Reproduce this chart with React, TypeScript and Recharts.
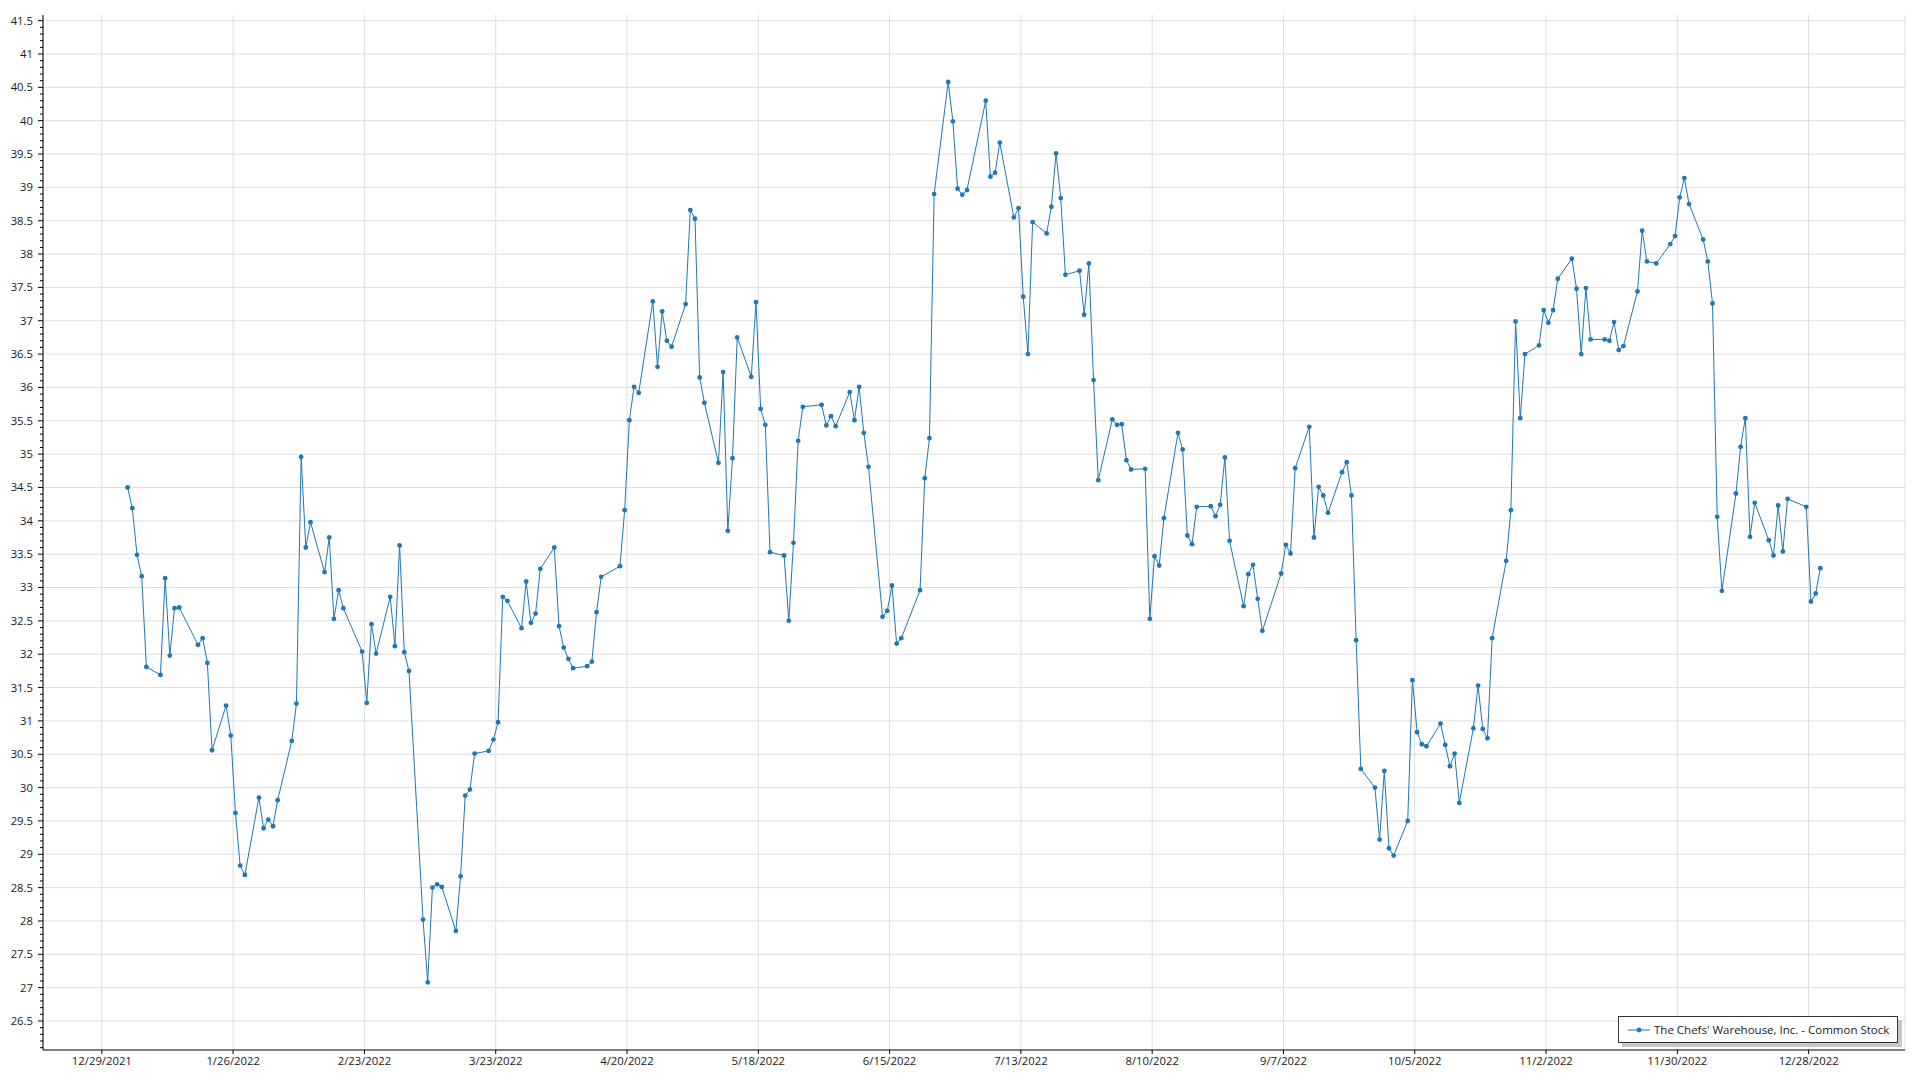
import React from "react";
import { LineChart, Line, XAxis, YAxis, CartesianGrid, Legend } from "recharts";

const FONT = '"Open Sans", "Noto Sans", sans-serif';
const BLUE = "#1f77b4";
const TEXT = "#1a1a1a";

// daily closes for 2022, one array per month
const jan = [34.5, 34.19, 33.49, 33.17, 31.81, 31.69, 33.14, 31.98, 32.69, 32.7, 32.14, 32.24, 31.87, 30.56, 31.23, 30.78, 29.62, 28.83, 28.69, 29.85];
const feb = [29.39, 29.52, 29.42, 29.81, 30.7, 31.26, 34.96, 33.6, 33.98, 33.23, 33.75, 32.53, 32.96, 32.69, 32.04, 31.27, 32.45, 32.01, 32.86];
const mar = [32.12, 33.63, 32.03, 31.75, 28.02, 27.08, 28.5, 28.55, 28.51, 27.85, 28.67, 29.88, 29.97, 30.51, 30.55, 30.72, 30.98, 32.86, 32.8, 32.39, 33.09, 32.47, 32.61];
const apr = [33.28, 33.6, 32.42, 32.1, 31.93, 31.79, 31.82, 31.89, 32.63, 33.16, 33.32, 34.16, 35.51, 36.01, 35.92, 37.29, 36.31, 37.14, 36.7, 36.61];
const may = [37.25, 38.66, 38.53, 36.15, 35.77, 34.87, 36.23, 33.85, 34.94, 36.75, 36.16, 37.28, 35.68, 35.44, 33.53, 33.48, 32.5, 33.67, 35.2, 35.71, 35.74];
const jun = [35.43, 35.57, 35.42, 35.93, 35.51, 36.01, 35.32, 34.81, 32.56, 32.65, 33.03, 32.16, 32.24, 32.96, 34.64, 35.24, 38.9, 40.58, 39.99, 38.98, 38.89];
const jul = [38.96, 40.3, 39.16, 39.22, 39.67, 38.55, 38.69, 37.36, 36.5, 38.48, 38.31, 38.71, 39.51, 38.84, 37.69, 37.75, 37.09, 37.86, 36.11, 34.61];
const aug = [35.52, 35.44, 35.45, 34.91, 34.77, 34.78, 32.53, 33.47, 33.33, 34.04, 35.32, 35.07, 33.78, 33.65, 34.21, 34.22, 34.07, 34.24, 34.95, 33.7, 32.72, 33.2, 33.34];
const sep = [32.83, 32.35, 33.21, 33.64, 33.51, 34.79, 35.41, 33.75, 34.51, 34.38, 34.12, 34.73, 34.88, 34.38, 32.21, 30.28, 30.0, 29.22, 30.25, 29.09, 28.98];
const oct = [29.5, 31.61, 30.83, 30.65, 30.62, 30.96, 30.64, 30.32, 30.51, 29.77, 30.89, 31.53, 30.88, 30.74, 32.24, 33.4, 34.16, 36.99, 35.54, 36.5, 36.63];
const nov = [37.16, 36.97, 37.16, 37.63, 37.93, 37.48, 36.5, 37.49, 36.72, 36.72, 36.7, 36.98, 36.56, 36.62, 37.44, 38.35, 37.89, 37.86, 38.15, 38.27, 38.85];
const dec = [39.14, 38.75, 38.22, 37.89, 37.26, 34.06, 32.95, 34.41, 35.11, 35.54, 33.76, 34.27, 33.71, 33.48, 34.23, 33.54, 34.33, 34.21, 32.79, 32.91, 33.29];

// market closed on these weekdays
const holidays = ["2022-01-17", "2022-02-21", "2022-04-15", "2022-05-30", "2022-06-20", "2022-07-04", "2022-09-05", "2022-11-24", "2022-12-26"];

const xTickLabels = ["12/29/2021", "1/26/2022", "2/23/2022", "3/23/2022", "4/20/2022", "5/18/2022", "6/15/2022", "7/13/2022", "8/10/2022", "9/7/2022", "10/5/2022", "11/2/2022", "11/30/2022", "12/28/2022"];
const yMajor = [26.5, 27, 27.5, 28, 28.5, 29, 29.5, 30, 30.5, 31, 31.5, 32, 32.5, 33, 33.5, 34, 34.5, 35, 35.5, 36, 36.5, 37, 37.5, 38, 38.5, 39, 39.5, 40, 40.5, 41, 41.5];

const legendName = "The Chefs' Warehouse, Inc. - Common Stock";

const DAY = 86400000;
const BASE = Date.UTC(2021, 11, 29);

const parseLabel = (s: string) => {
  const [m, d, y] = s.split("/").map(Number);
  return (Date.UTC(y, m - 1, d) - BASE) / DAY;
};
const xTicks = xTickLabels.map(parseLabel);
const fmtDate = (v: number) => {
  const i = xTicks.indexOf(v);
  return i >= 0 ? xTickLabels[i] : "";
};

// minor ticks every 0.1 on the value axis
const yTicks: number[] = [];
for (let i = 261; i <= 415; i++) yTicks.push(i / 10);

const tradingDays = (month: number) => {
  const out: number[] = [];
  for (let d = 1; d <= 31; d++) {
    const dt = new Date(Date.UTC(2022, month, d));
    if (dt.getUTCMonth() !== month) break;
    const wd = dt.getUTCDay();
    if (wd === 0 || wd === 6) continue;
    if (holidays.includes(dt.toISOString().slice(0, 10))) continue;
    out.push(dt.getTime());
  }
  return out;
};

const months = [jan, feb, mar, apr, may, jun, jul, aug, sep, oct, nov, dec];
// points sit at midday of each session
const data = months.flatMap((closes, m) =>
  tradingDays(m).map((t, i) => ({ x: (t - BASE) / DAY + 0.5, close: closes[i] })),
);

const X_DOMAIN = [-12.55, 384.55];
const Y_DOMAIN = [26.065, 41.585];

const YTick = (props: any) => {
  const { x, y, payload } = props;
  const v = payload.value as number;
  const major = Math.abs(v * 2 - Math.round(v * 2)) < 1e-6;
  const ax = x + 10;
  return (
    <g>
      <line x1={ax - (major ? 5 : 3)} x2={ax} y1={y} y2={y} stroke="#000" />
      {major && (
        <text x={x} y={y} dy="0.35em" textAnchor="end" fontSize={11.3} fill={TEXT} fontFamily={FONT}>
          {v}
        </text>
      )}
    </g>
  );
};

const LegendBox = () => (
  <div
    style={{
      width: 280,
      height: 27,
      boxSizing: "border-box",
      border: "1px solid #333",
      boxShadow: "4px 4px 0 #c8c8c8",
      background: "#fff",
      display: "flex",
      alignItems: "center",
      paddingLeft: 9,
    }}
  >
    <svg width={22} height={8}>
      <line x1={0} x2={22} y1={4} y2={4} stroke={BLUE} strokeWidth={1} />
      <circle cx={11} cy={4} r={2.4} fill={BLUE} />
    </svg>
    <span style={{ marginLeft: 4, fontSize: 11.5, fontFamily: FONT, color: TEXT, whiteSpace: "nowrap" }}>
      {legendName}
    </span>
  </div>
);

export default function App() {
  return (
    <div style={{ position: "absolute", left: 0, top: 0, width: 1920, height: 1080, background: "#fff" }}>
      <LineChart width={1920} height={1080} data={data} margin={{ top: 15, right: 15, bottom: 0, left: 0 }}>
        <CartesianGrid stroke="#dedede" horizontalValues={yMajor} />
        <XAxis
          dataKey="x"
          type="number"
          domain={X_DOMAIN}
          ticks={xTicks}
          interval={0}
          tickFormatter={fmtDate}
          height={30}
          tickSize={4}
          tickMargin={3}
          allowDataOverflow
          axisLine={{ stroke: "#000" }}
          tickLine={{ stroke: "#000" }}
          tick={{ fontSize: 11.3, fill: TEXT, fontFamily: FONT }}
        />
        <XAxis
          xAxisId="top"
          orientation="top"
          type="number"
          domain={X_DOMAIN}
          height={0}
          tick={false}
          tickLine={false}
          axisLine={{ stroke: "#000" }}
        />
        <YAxis
          type="number"
          domain={Y_DOMAIN}
          ticks={yTicks}
          interval={0}
          width={43}
          tickSize={4}
          tickMargin={6}
          allowDataOverflow
          tickLine={false}
          tick={(p: any) => <YTick {...p} />}
          axisLine={{ stroke: "#000" }}
        />
        <YAxis
          yAxisId="right"
          orientation="right"
          width={0}
          tick={false}
          tickLine={false}
          axisLine={{ stroke: "#000" }}
        />
        <Legend
          layout="horizontal"
          verticalAlign="middle"
          align="center"
          wrapperStyle={{ left: 1618, top: 1016, width: 284, height: 31 }}
          content={() => <LegendBox />}
        />
        <Line
          dataKey="close"
          name={legendName}
          stroke={BLUE}
          strokeWidth={1}
          dot={{ r: 2.4, fill: BLUE, stroke: "none" }}
          activeDot={false}
          isAnimationActive={false}
        />
      </LineChart>
    </div>
  );
}
